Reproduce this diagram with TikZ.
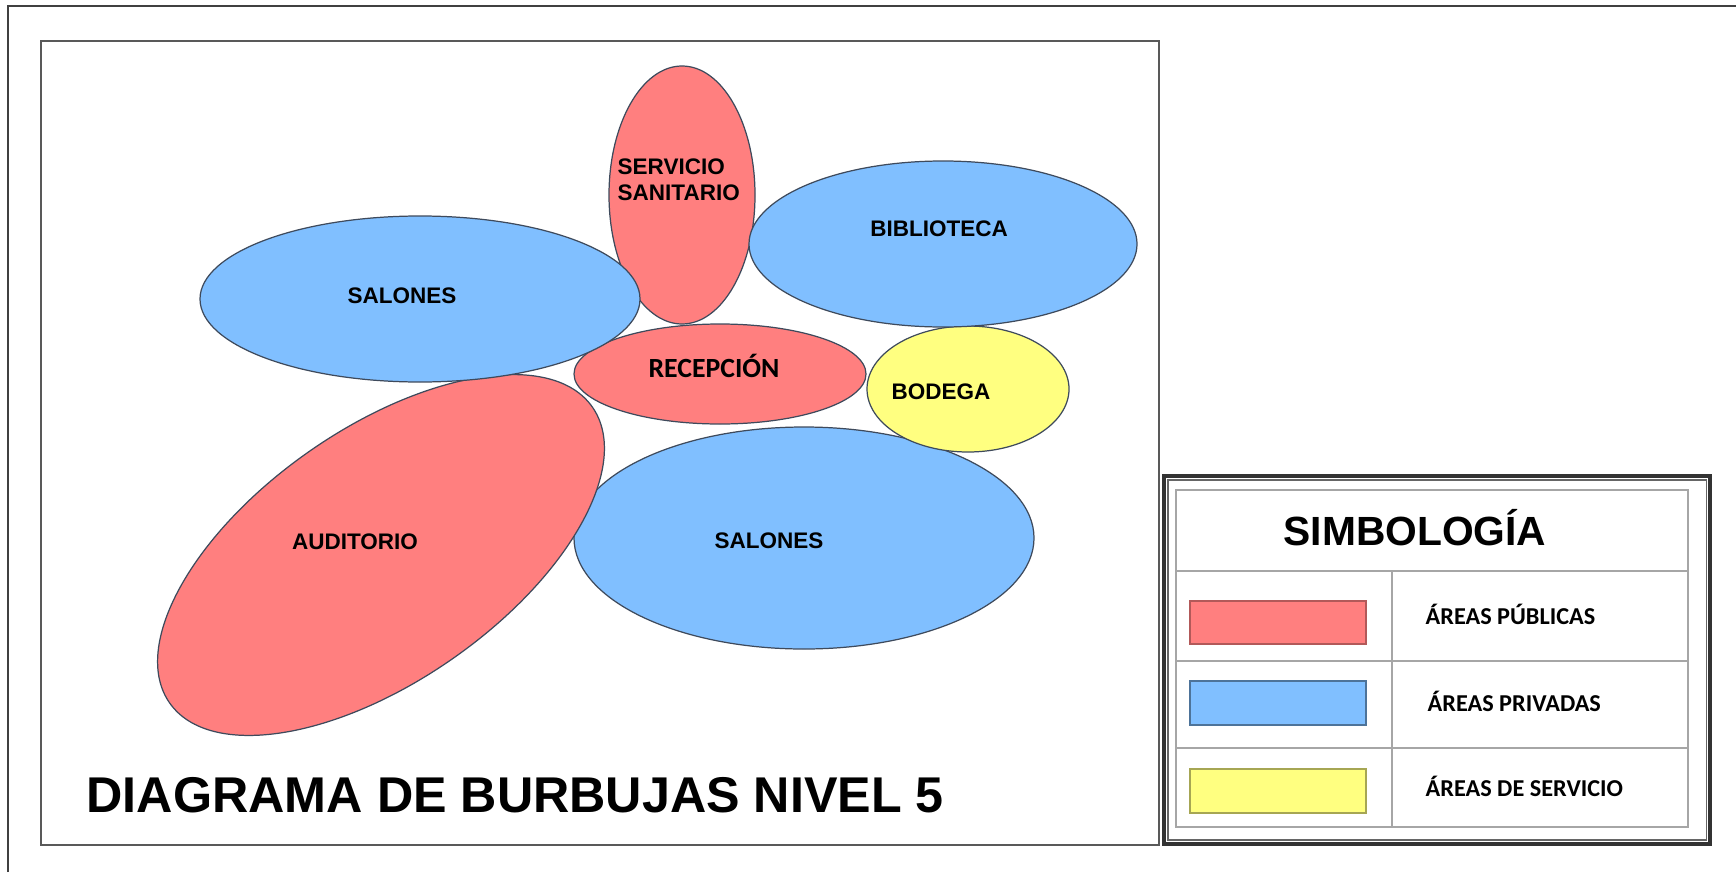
\documentclass[tikz,border=0pt]{standalone}
\usepackage{fontspec}
\setmainfont{Liberation Sans}
\newfontfamily\calibri{Carlito}
\usepackage{xcolor}
\usepackage{tikz}
\usetikzlibrary{shapes.geometric,positioning}

\definecolor{publica}{HTML}{FF7F7F}
\definecolor{privada}{HTML}{80BFFF}
\definecolor{servicio}{HTML}{FFFF80}
\definecolor{borde}{HTML}{3E4A5C}

\begin{document}
\begin{tikzpicture}[x=1cm, y=-1cm,
    burbuja/.style={ellipse, draw=borde, line width=0.35pt, inner sep=0pt},
    etiqueta/.style={font=\fontsize{6.4}{7.4}\selectfont\bfseries, inner sep=0pt},
    leyenda/.style={font=\calibri\fontsize{6.9}{8}\selectfont\bfseries, anchor=west, inner sep=0pt},
    muestra/.style={line width=0.5pt}]
\useasboundingbox (0,0) rectangle (17.36,8.72);

% Frames
\draw[line width=0.75pt, black!75] (0.08,8.72) -- (0.08,0.06) -- (17.36,0.06);
\draw[line width=0.55pt, black!65] (0.41,0.41) rectangle (11.59,8.45);

% Bubbles
\node[burbuja, fill=privada, minimum width=4.60cm, minimum height=2.22cm] (sal2) at (8.04,5.38) {};
\node[burbuja, fill=publica, minimum width=5.16cm, minimum height=2.52cm, rotate=35] (aud) at (3.81,5.55) {};
\node[burbuja, fill=servicio, minimum width=2.02cm, minimum height=1.26cm] (bod) at (9.68,3.89) {};
\node[burbuja, fill=publica, minimum width=2.92cm, minimum height=1.00cm] (rec) at (7.20,3.74) {};
\node[burbuja, fill=publica, minimum width=1.46cm, minimum height=2.58cm] (serv) at (6.82,1.95) {};
\node[burbuja, fill=privada, minimum width=4.40cm, minimum height=1.66cm] (sal1) at (4.20,2.99) {};
\node[burbuja, fill=privada, minimum width=3.88cm, minimum height=1.66cm] (bib) at (9.43,2.44) {};

% Labels
\node[etiqueta, anchor=west, align=left] (servtxt) at (6.17,1.80) {SERVICIO\\SANITARIO};
\node[etiqueta] (bibtxt) at (9.39,2.29) {BIBLIOTECA};
\node[etiqueta] (sal1txt) at (4.02,2.96) {SALONES};
\node[etiqueta, font=\calibri\fontsize{7.9}{9}\selectfont\bfseries] (rectxt) at (7.14,3.66) {RECEPCIÓN};
\node[etiqueta] (bodtxt) at (9.41,3.92) {BODEGA};
\node[etiqueta] (sal2txt) at (7.69,5.41) {SALONES};
\node[etiqueta] (audtxt) at (3.55,5.42) {AUDITORIO};

\node[anchor=west, inner sep=0pt, font=\fontsize{14.3}{16}\selectfont\bfseries] (titulo) at (0.86,7.95) {DIAGRAMA DE BURBUJAS NIVEL 5};

% Legend
\draw[line width=0.9pt, black!80] (11.64,4.76) rectangle (17.10,8.44);
\draw[line width=0.3pt, black!60] (11.68,4.80) rectangle (17.06,8.40);
\draw[line width=0.45pt, black!35] (11.76,4.90) rectangle (16.88,8.27);
\draw[line width=0.45pt, black!35] (11.76,5.71) -- (16.88,5.71);
\draw[line width=0.45pt, black!35] (11.76,6.61) -- (16.88,6.61);
\draw[line width=0.45pt, black!35] (11.76,7.48) -- (16.88,7.48);
\draw[line width=0.45pt, black!35] (13.92,5.71) -- (13.92,8.27);

\node[inner sep=0pt, font=\fontsize{11.6}{13}\selectfont\bfseries] (simb) at (14.15,5.28) {SIMBOLOGÍA};

\draw[muestra, fill=publica, draw=publica!70!black] (11.90,6.01) rectangle (13.66,6.44);
\draw[muestra, fill=privada, draw=privada!60!black] (11.90,6.81) rectangle (13.66,7.25);
\draw[muestra, fill=servicio, draw=servicio!65!black] (11.90,7.69) rectangle (13.66,8.13);

\node[leyenda] (pub) at (14.25,6.14) {ÁREAS PÚBLICAS};
\node[leyenda] (priv) at (14.27,7.01) {ÁREAS PRIVADAS};
\node[leyenda] (servl) at (14.25,7.86) {ÁREAS DE SERVICIO};
\end{tikzpicture}
\end{document}
